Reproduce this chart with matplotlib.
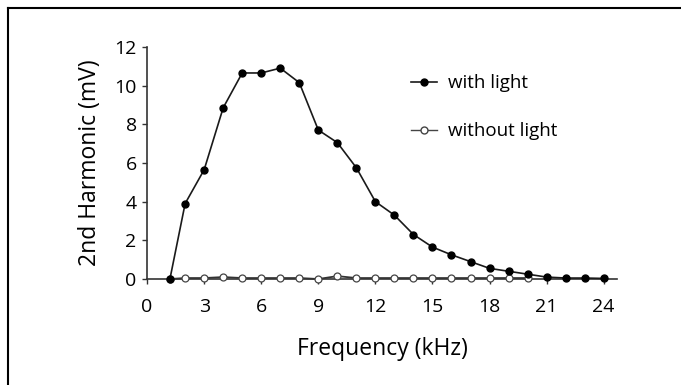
import matplotlib
matplotlib.use("Agg")
import matplotlib.pyplot as plt
from matplotlib.lines import Line2D

plt.rcParams['font.family'] = ['Open Sans', 'DejaVu Sans']

freq_light = [1.2, 2, 3, 4, 5, 6, 7, 8, 9, 10, 11, 12, 13, 14, 15, 16, 17, 18, 19, 20, 21, 22, 23, 24]
with_light = [0.0, 3.9, 5.65, 8.85, 10.65, 10.65, 10.9, 10.15, 7.7, 7.05, 5.75, 4.0, 3.3, 2.3, 1.65,
              1.25, 0.9, 0.55, 0.4, 0.25, 0.1, 0.05, 0.05, 0.03]
freq_dark = [1.2, 2, 3, 4, 5, 6, 7, 8, 9, 10, 11, 12, 13, 14, 15, 16, 17, 18, 19, 20]
without_light = [0.0, 0.05, 0.05, 0.1, 0.05, 0.05, 0.05, 0.05, 0.0, 0.15, 0.05, 0.05, 0.05, 0.05,
                 0.05, 0.05, 0.05, 0.05, 0.05, 0.05]
xticks = [0, 3, 6, 9, 12, 15, 18, 21, 24]
yticks = [0, 2, 4, 6, 8, 10, 12]

fig = plt.figure(figsize=(6.81, 3.85), dpi=100)
ax = fig.add_axes([0.216, 0.2753, 0.69, 0.603])

ax.plot(freq_dark, without_light, '-', color='#333333', lw=1.3, marker='o', ms=5,
        mfc='white', mec='#444444', mew=0.9, clip_on=False, zorder=3)
ax.plot(freq_light, with_light, '-', color='#1a1a1a', lw=1.2, marker='o', ms=5,
        mfc='black', mec='black', clip_on=False, zorder=4)

ax.set_xlim(0, 24.7)
ax.set_ylim(0, 12)
ax.set_xticks(xticks)
ax.set_yticks(yticks)
ax.tick_params(axis='both', labelsize=14, length=3.5, width=1, color='#333333')
ax.tick_params(axis='x', pad=10)
ax.tick_params(axis='y', pad=4)
for s in ['top', 'right']:
    ax.spines[s].set_visible(False)
for s in ['left', 'bottom']:
    ax.spines[s].set_color('#333333')
    ax.spines[s].set_linewidth(1.2)

ax.set_xlabel('Frequency (kHz)', fontsize=16.5, labelpad=15)
ax.set_ylabel('2nd Harmonic (mV)', fontsize=16.5, labelpad=9)

handles = [Line2D([], [], color='#1a1a1a', lw=1.2, marker='o', ms=5, mfc='black', mec='black'),
           Line2D([], [], color='#444444', lw=1.0, marker='o', ms=5, mfc='white', mec='#444444')]
ax.legend(handles, ['with light', 'without light'], frameon=False, fontsize=13.5,
          loc='upper left', bbox_to_anchor=(0.525, 0.955), handlelength=1.4,
          handletextpad=0.6, labelspacing=1.6)

# figure border lines (top and left)
fig.add_artist(Line2D([8 / 681, 8 / 681], [0, 1 - 8 / 385], transform=fig.transFigure,
                      color='black', lw=1.5))
fig.add_artist(Line2D([8 / 681, 1], [1 - 8 / 385, 1 - 8 / 385], transform=fig.transFigure,
                      color='black', lw=1.5))

fig.savefig('out.png', dpi=100)
